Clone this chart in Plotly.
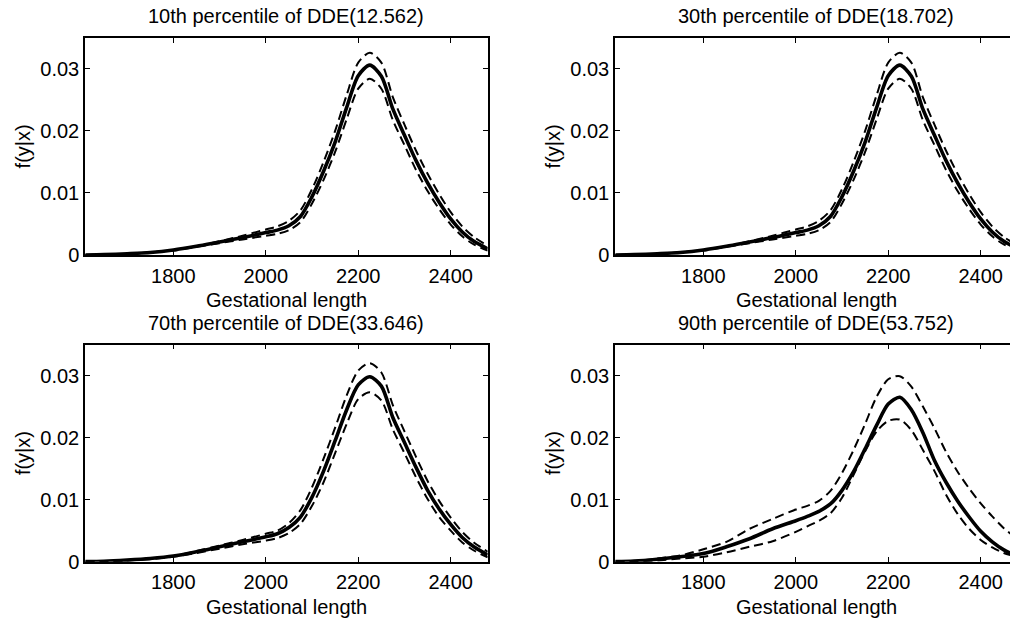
import plotly.graph_objects as go

W, H = 1010, 627
FONT = "Liberation Sans, Arial, Helvetica, sans-serif"

# Gestational length grid
gest = [1610, 1650, 1700, 1750, 1800, 1850, 1900, 1950, 2000, 2025, 2050, 2075, 2100,
        2125, 2150, 2175, 2200, 2225, 2250, 2275, 2300, 2325, 2350, 2375, 2400, 2425,
        2450, 2480]

# Conditional density f(y|x) with pointwise bands, per DDE percentile
p10_mean = [0, 0.00005, 0.0002, 0.0004, 0.0008, 0.0014, 0.0021, 0.0028, 0.0036, 0.0040,
            0.0047, 0.0062, 0.0094, 0.0135, 0.0182, 0.0238, 0.0289, 0.0306, 0.0288, 0.0235,
            0.0193, 0.0152, 0.0116, 0.0085, 0.0058, 0.0037, 0.0022, 0.0010]
p10_upper = [0, 0.00005, 0.0002, 0.0004, 0.0008, 0.0014, 0.0022, 0.0031, 0.0041, 0.0046,
             0.0055, 0.0072, 0.0106, 0.0150, 0.0200, 0.0258, 0.0310, 0.0326, 0.0310, 0.0254,
             0.0210, 0.0168, 0.0131, 0.0098, 0.0069, 0.0046, 0.0029, 0.0015]
p10_lower = [0, 0.00004, 0.00018, 0.0004, 0.0007, 0.0013, 0.0019, 0.0025, 0.0031, 0.0034,
             0.0040, 0.0053, 0.0083, 0.0121, 0.0166, 0.0219, 0.0268, 0.0284, 0.0268, 0.0217,
             0.0177, 0.0137, 0.0103, 0.0074, 0.0049, 0.0030, 0.0017, 0.0007]

p30_mean = [0, 0.00005, 0.0002, 0.0004, 0.0008, 0.0014, 0.0021, 0.0028, 0.0036, 0.0040,
            0.0047, 0.0062, 0.0094, 0.0135, 0.0182, 0.0238, 0.0289, 0.0306, 0.0288, 0.0235,
            0.0193, 0.0152, 0.0116, 0.0085, 0.0058, 0.0037, 0.0022, 0.0010]
p30_upper = [0, 0.00005, 0.0002, 0.0004, 0.0008, 0.0014, 0.0022, 0.0031, 0.0041, 0.0046,
             0.0055, 0.0072, 0.0106, 0.0150, 0.0200, 0.0258, 0.0310, 0.0326, 0.0310, 0.0254,
             0.0210, 0.0168, 0.0131, 0.0098, 0.0069, 0.0046, 0.0029, 0.0015]
p30_lower = [0, 0.00004, 0.00018, 0.0004, 0.0007, 0.0013, 0.0019, 0.0025, 0.0031, 0.0034,
             0.0040, 0.0053, 0.0083, 0.0121, 0.0166, 0.0219, 0.0268, 0.0284, 0.0268, 0.0217,
             0.0177, 0.0137, 0.0103, 0.0074, 0.0049, 0.0030, 0.0017, 0.0007]

p70_mean = [0, 0.00006, 0.00025, 0.0005, 0.0009, 0.0016, 0.0024, 0.0032, 0.0040, 0.0045,
            0.0055, 0.0072, 0.0104, 0.0146, 0.0195, 0.0245, 0.0285, 0.0298, 0.0283, 0.0232,
            0.0192, 0.0152, 0.0115, 0.0085, 0.0060, 0.0039, 0.0024, 0.0011]
p70_upper = [0, 0.00006, 0.00025, 0.0005, 0.0009, 0.0017, 0.0026, 0.0035, 0.0045, 0.0050,
             0.0062, 0.0083, 0.0120, 0.0166, 0.0216, 0.0268, 0.0308, 0.0320, 0.0305, 0.0252,
             0.0210, 0.0169, 0.0130, 0.0098, 0.0071, 0.0048, 0.0031, 0.0016]
p70_lower = [0, 0.00005, 0.0002, 0.0004, 0.0008, 0.0014, 0.0021, 0.0028, 0.0034, 0.0038,
             0.0046, 0.0061, 0.0090, 0.0128, 0.0175, 0.0222, 0.0262, 0.0273, 0.0260, 0.0213,
             0.0175, 0.0136, 0.0101, 0.0072, 0.0050, 0.0031, 0.0018, 0.0007]

p90_mean = [0, 0.0001, 0.0004, 0.0008, 0.0013, 0.0024, 0.0037, 0.0053, 0.0066, 0.0073,
            0.0081, 0.0093, 0.0115, 0.0145, 0.0182, 0.0220, 0.0254, 0.0265, 0.0245, 0.0208,
            0.0163, 0.0128, 0.0098, 0.0072, 0.0049, 0.0032, 0.0019, 0.0008]
p90_upper = [0, 0.0001, 0.0005, 0.0010, 0.0020, 0.0032, 0.0053, 0.0069, 0.0084, 0.0090,
             0.0098, 0.0114, 0.0143, 0.0180, 0.0222, 0.0266, 0.0294, 0.0299, 0.0282, 0.0250,
             0.0215, 0.0177, 0.0145, 0.0118, 0.0094, 0.0073, 0.0054, 0.0036]
p90_lower = [0, 0.00005, 0.0002, 0.0005, 0.0008, 0.0015, 0.0024, 0.0033, 0.0048, 0.0057,
             0.0066, 0.0078, 0.0103, 0.0140, 0.0178, 0.0210, 0.0227, 0.0229, 0.0212, 0.0180,
             0.0146, 0.0108, 0.0077, 0.0053, 0.0035, 0.0023, 0.0014, 0.0007]

titles = ["10th percentile of DDE(12.562)", "30th percentile of DDE(18.702)",
          "70th percentile of DDE(33.646)", "90th percentile of DDE(53.752)"]
x_ticks = [1800, 2000, 2200, 2400]
y_ticks = [0, 0.01, 0.02, 0.03]
y_ticktext = ["0", "0.01", "0.02", "0.03"]
x_title = "Gestational length"
y_title = "f(y|x)"

panels = [
    (p10_mean, p10_upper, p10_lower),
    (p30_mean, p30_upper, p30_lower),
    (p70_mean, p70_upper, p70_lower),
    (p90_mean, p90_upper, p90_lower),
]

# panel geometry in pixels: (left, right, top, bottom)
boxes = [
    (85, 487.7, 38.5, 259.5),
    (615, 1010, 38.5, 259.5),
    (85, 487.7, 350.7, 571.7),
    (615, 1010, 350.7, 571.7),
]
full_width = 402.7  # nominal box width; right column extends past the page edge
x_lo, x_hi = 1609, 2480
FS = 20

fig = go.Figure()
annotations = []

for i, ((m, up, lo), (l, r, t, b)) in enumerate(zip(panels, boxes)):
    k = "" if i == 0 else str(i + 1)
    xa, ya = "x" + k, "y" + k
    for series, width, dash in ((up, 2, "9px,5px"), (lo, 2, "9px,5px"), (m, 3.6, "solid")):
        fig.add_trace(go.Scatter(
            x=gest, y=series, xaxis=xa, yaxis=ya, mode="lines",
            line=dict(color="black", width=width, dash=dash, shape="spline", smoothing=0.8),
            showlegend=False, hoverinfo="skip"))

    right_col = i % 2 == 1
    span = (r - l) / full_width * (x_hi - x_lo)
    common = dict(showline=True, linecolor="black", linewidth=1.5, ticks="inside",
                  ticklen=5, tickcolor="black", tickwidth=1, showgrid=False, zeroline=False,
                  tickfont=dict(family=FONT, size=FS, color="black"))
    fig.layout["xaxis" + k] = dict(
        common, domain=[l / W, r / W], range=[x_lo, x_lo + span], anchor=ya,
        tickvals=x_ticks, mirror="ticks", ticklabelstandoff=2)
    fig.layout["yaxis" + k] = dict(
        common, domain=[1 - b / H, 1 - t / H], range=[0, 0.035], anchor=xa,
        tickvals=y_ticks, ticktext=y_ticktext,
        mirror=False if right_col else "ticks")

    cx = (l + (l + full_width)) / 2
    annotations.append(dict(text=titles[i], x=cx / W, y=1 - (t - 22) / H, xref="paper",
                            yref="paper", xanchor="center", yanchor="middle",
                            showarrow=False, font=dict(family=FONT, size=FS, color="black")))
    annotations.append(dict(text=x_title, x=cx / W, y=1 - (b + 46) / H, xref="paper",
                            yref="paper", xanchor="center", yanchor="middle",
                            showarrow=False, font=dict(family=FONT, size=FS, color="black")))
    annotations.append(dict(text=y_title, x=(l - 62) / W, y=1 - (t + b) / 2 / H, xref="paper",
                            yref="paper", xanchor="center", yanchor="middle", textangle=-90,
                            showarrow=False, font=dict(family=FONT, size=FS, color="black")))

fig.update_layout(
    width=W, height=H, margin=dict(l=0, r=0, t=0, b=0),
    paper_bgcolor="white", plot_bgcolor="white",
    annotations=annotations, showlegend=False,
)

fig.write_html("out.html")
